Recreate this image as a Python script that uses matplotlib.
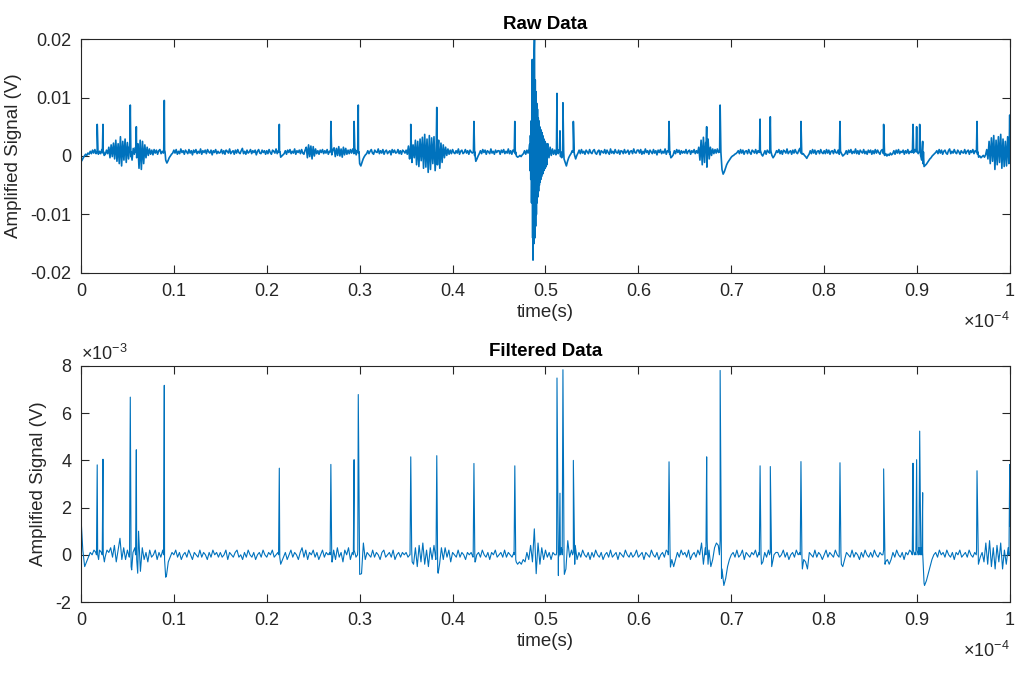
import numpy as np
import matplotlib
matplotlib.use('Agg')
from matplotlib import pyplot as plt
from matplotlib.ticker import FuncFormatter

plt.rcParams['font.family'] = ['Liberation Sans', 'DejaVu Sans']
plt.rcParams['mathtext.default'] = 'regular'

# spike times (us) and heights (mV)
spike_t = [1.75, 2.37, 5.31, 5.96, 8.97, 21.35, 26.9, 29.4, 29.85, 35.5, 38.3, 42.3, 46.7,
           51.24, 51.56, 51.88, 53.0, 63.3, 67.35, 68.8, 73.1, 74.2, 77.5, 81.7, 86.4,
           89.56, 89.95, 90.28, 90.6, 96.45, 99.97]
filt_peak = [3.81, 4.05, 6.68, 4.45, 7.18, 3.67, 3.83, 4.03, 6.79, 4.15, 4.20, 3.87, 3.77,
             7.49, 2.61, 7.84, 4.00, 3.94, 4.15, 7.81, 3.77, 3.74, 3.95, 3.90, 3.64,
             3.88, 4.03, 5.24, 2.63, 3.56, 3.83]
filt_dip = [-0.2, -0.3, -0.64, -0.78, -0.95, -0.4, -0.3, 0.0, -0.83, -0.3, -0.78, -0.3, -0.3,
            -0.88, 0.3, -0.83, -0.4, -0.52, -0.4, -1.0, -0.4, -0.5, -0.6, -0.4, -0.4,
            0.0, 0.0, 0.3, -1.2, -0.4, 1.24]
raw_peak = [5.4, 5.4, 8.7, 5.0, 9.5, 5.4, 5.9, 5.9, 8.7, 5.4, 8.3, 5.9, 5.9,
            10.7, 4.3, 9.1, 5.9, 5.9, 5.0, 8.7, 6.3, 6.7, 5.9, 5.9, 5.4,
            5.4, 5.0, 5.4, 2.5, 5.9, 7.0]

# filtered baseline, 0.1 mV units, every 0.2 us (one row = 5 us)
filt_base = [
    16, 2, -5, -3, -1, 1, 0, 2, 1, 0, 2, 1, 0, -1, 2, 1, 3, -1, 4, -3, 2, 7, -2, 3, -2,
    2, -1, -5, 1, 3, -2, 10, -7, 3, -2, 1, -3, 2, -1, 0, 2, -2, 1, -1, 2, -2, -9, -3, -1, 1,
    0, 2, -1, 1, -2, 0, 1, -1, 2, 0, -2, 1, 0, -1, 2, -1, 1, 0, -2, 1, -1, 2, 0, 1, -1,
    1, -1, 0, 2, -2, 1, 0, -1, 1, 2, -1, 0, -2, 1, -1, 2, 0, -1, 1, -2, 0, 1, -1, 2, 0,
    -1, 1, 0, 2, -1, 0, 1, -1, -3, -1, 1, -2, 0, 2, -1, 1, 0, -2, 1, 3, -1, 2, -2, 1, 0,
    2, -1, 1, -2, 0, 2, -1, 1, 0, 1, -3, 2, -2, 3, -1, 1, -3, 2, 0, 3, -2, 1, 2, -1, 2,
    -6, -8, 5, -2, 1, 0, -1, 2, -1, 1, 0, -2, 1, 2, -1, 0, 1, -1, 2, -2, 0, 1, -1, 1, 0,
    1, -1, 0, 2, -4, 3, -5, 4, -3, 5, -4, 2, -5, 3, -2, 4, -2, -7, -4, 3, -2, 3, -1, 2, -3,
    1, 0, -1, 2, -1, 1, 0, -2, 1, 0, 1, -1, -3, 0, 1, -1, 2, 0, -1, 1, -2, 1, 0, 2, -1,
    0, 1, -1, 2, -1, 1, 0, -1, 1, -2, -4, -3, -4, -2, -3, 1, -2, 4, -3, 11, -8, 5, -4, 3, -2,
    2, -1, 1, -2, 1, 0, 1, -1, 0, 1, -2, -6, 6, -1, 2, 1, 4, -2, 1, -1, 2, 0, -1, 1, -2,
    1, -1, 2, 0, -1, 1, -2, 0, 1, -1, 2, -1, 0, 1, -2, 1, 0, -1, 2, 0, -1, 1, -1, 0, 2,
    -1, 0, 1, -2, 1, 0, -1, 2, 0, -1, 1, -2, 0, 1, -1, 2, 1, 3, -2, -5, -2, 1, -1, 2, 0,
    1, -1, 2, -2, 0, 1, -1, 2, 0, 5, -4, 3, 6, 2, -5, -2, 3, 5, 4, 6, -6, -13, -10, -5, -2,
    0, 1, -1, 2, -1, 0, 2, -2, 1, 0, -1, 1, 0, 2, -1, 1, 0, -3, 1, -1, 2, 1, -4, 0, 1,
    1, -1, 0, 2, -1, 1, -2, 0, 1, -1, 2, 0, 1, 0, -2, -3, -6, 1, 0, -1, 2, -1, 1, 0, -2,
    0, 2, -1, 1, 0, -1, 2, 0, -1, 1, -5, -2, 1, 0, -1, 2, -1, 1, 0, -2, 1, -1, 2, 0, -1,
    1, -1, 2, 0, -1, 1, 0, 2, -3, -2, -4, -2, 1, -1, 2, 0, -1, 1, -2, 1, 0, 2, 1, 2, 1,
    2, 3, 0, 1, -13, -11, -8, -5, -2, 0, 1, -1, 2, 0, 1, -1, 2, 0, -1, 1, -2, 1, 0, 2, -1,
    0, 1, -1, 2, 0, -1, 1, 2, -4, -1, 1, -3, 5, -4, 6, -5, 3, -6, 4, -3, 5, -6, 2, -4, 3,
    12]

# raw noise around the 0.7 mV offset, 0.1 mV units, every 0.125 us (one row = 5 us)
raw_offset = 0.7
raw_noise = [
    -17, -14, -10, -7, -4, -6, -2, -4, 1, -3, 3, -2, 4, -3, 2, -4, 1, -3, 4, -2,
    -6, -4, 3, -3, 8, -10, 12, -8, 15, -12, 20, -16, 14, -20, 26, -24, 18, -14, 22, -18,
    16, -12, 10, -8, -14, 6, -4, 8, -10, 14, -28, 20, -30, 18, -20, 12, -10, 8, -6, 5,
    -4, 3, -5, 4, -2, 3, -4, 2, 4, -3, 1, -2, 3, -14, -19, -15, -10, -7, -4, -2,
    3, -2, 4, -4, 1, -3, 5, -1, 2, -4, 3, 0, -3, 4, -2, 2, -5, 3, -1, 4,
    -3, 1, -2, 5, -4, 2, -1, 3, -3, 4, 0, -2, 3, -5, 2, -1, 4, -3, 1, -2,
    -1, 4, -3, 2, -4, 3, 1, -2, 5, -3, 0, 2, -4, 3, -2, 4, -1, -3, 2, 6,
    -3, 1, -4, 3, -2, 0, 4, -3, 2, -1, 3, -5, 1, 4, -2, -3, 3, -1, 2, -4,
    2, -3, 4, -1, -4, 3, 1, -2, 5, -3, 2, 0, -9, -7, -5, -3, 2, -4, 3, -1,
    4, -3, 1, -2, 5, -4, 2, -1, 3, -3, 4, -2, -4, 3, 8, -10, 12, -8, 10, -12,
    9, -7, 5, -3, 2, -4, 3, -1, 4, -3, 2, -2, 4, -4, 1, 3, -5, 4, 7, -8,
    6, -6, 9, -7, 5, -9, 8, -5, 6, -4, 3, -3, 4, -2, 5, -3, 4, -5, 3, -2,
    -20, -24, -18, -12, -8, -5, -3, 2, -3, 1, 4, -2, -4, 3, 0, -1, 5, -3, 2, -2,
    4, -4, 1, 3, -3, 0, 2, -5, 4, -1, 3, -2, -1, 4, -3, 2, -4, 3, 1, -2,
    3, -4, 10, -12, 15, -18, 12, -10, 20, -22, 18, -25, 22, -15, 25, -28, 30, -26, 22, -35,
    28, -30, 24, -20, 26, -32, 18, -22, 20, -28, 15, -18, 12, -10, 8, -6, 5, -4, 3, -3,
    4, -1, -3, 2, -2, 5, -4, 1, 3, -3, -1, 4, -2, 2, -4, 3, 0, -2, 4, -6,
    -16, -12, -7, -3, 2, -3, 4, -1, 3, -4, 2, 0, -3, 5, -2, 1, -4, 3, -1, 2,
    2, -4, 3, -1, 4, -3, 1, -2, 5, -3, 2, -4, 3, 0, -3, -7, -9, -8, -6, -8,
    -5, -3, 2, -4, 3, -2, 5, -8, 10, -12, 14, -16, 12, -14, 10, -12, 9, -10, 8, -9,
    12, -15, 14, -10, 8, -6, 5, -4, 3, -5, 2, -3, 4, -8, -10, -6, -12, -18, -24, -16,
    -10, -6, -3, 2, 3, -5, -12, -6, -2, 3, -3, 4, -2, 1, -4, 3, 0, -3, 4, -1,
    -3, 2, 4, -2, -4, 1, 3, -5, 2, 0, -2, 4, -3, 3, -1, -4, 5, -2, 1, -3,
    4, -1, -2, 3, -4, 2, 1, -3, 4, -2, 0, 3, -4, 1, 2, -3, 5, -1, -2, 3,
    3, -2, 4, -4, 1, -3, 5, -1, 2, -4, 3, 0, -3, 4, -2, 2, -5, 3, -1, 4,
    -3, 1, -2, 5, -4, 2, 0, -4, -10, -8, -5, 2, -3, 4, -1, 3, -4, 2, -2, 1,
    -2, 4, -3, 1, 3, -4, 2, -1, 4, -3, 2, -2, 8, -14, 20, -22, 25, -18, 16, -26,
    22, -12, 8, -6, 5, -3, 4, -2, 5, -1, 6, 2, -30, -38, -34, -28, -22, -18, -15, -12,
    -9, -7, -6, -4, -3, -1, 2, -3, 4, -2, 3, -4, 1, 2, -3, 4, -1, -4, 3, 1,
    -2, 4, -3, 2, -1, 3, -4, -7, -3, 2, -4, 3, 0, -2, 4, -6, -10, -7, -3, 2,
    -1, 4, -3, 2, -4, 3, 1, -2, 5, -3, 0, 2, -4, 3, -2, 4, -1, -3, 2, 6,
    -2, -4, -3, -6, -8, -11, -7, -4, 2, -3, 4, -2, 3, -4, 1, 2, -3, 4, -1, -3,
    2, -3, 4, -2, 3, -4, 1, 2, -3, 4, -1, -2, 3, -4, 2, -3, -7, -5, -3, 2,
    -4, 3, -1, 4, -3, 1, -2, 5, -3, 2, -4, 3, 0, -2, 4, -3, 1, -4, 3, -1,
    3, -4, 2, -3, 4, -2, 3, -1, -4, 2, 4, -3, -6, -3, -7, -4, -6, -2, -5, -3,
    2, -4, 3, -2, 4, -3, 1, -1, 3, -4, 2, -2, 4, -3, 1, -1, 3, -2, 4, 3,
    2, -3, 4, -6, -14, -20, -25, -23, -21, -18, -15, -12, -10, -7, -5, -3, -1, 2, -3, 4,
    -2, 3, -4, 1, 3, -2, -4, 2, 5, -3, 1, -2, 4, -1, -3, 3, 0, -4, 2, -1,
    -2, 4, -3, 1, 3, -4, 2, -1, 4, -3, 2, 0, -4, -9, -7, -10, -8, -6, -9, -5,
    4, -12, 18, -20, 24, -16, 28, -30, 20, -22, 26, -18, 30, -28, 22, -25, 18, -24, 26, -20,
    10]

# big event in raw data around 48.3-50.2 us (mV), every 0.04 us
burst_v = [2.0, -2.5, 3.5, -4.0, 6.0, -8.0, 12.0, 16.5, -14.0, -17.8, 14.0, -15.0,
           18.0, 21.0, -14.0, 13.0, -12.0, 11.0, -10.0, 9.0, -8.0, 8.0, -7.0, 6.5,
           -6.0, 6.0, -5.0, 5.0, -4.5, 4.5, -4.0, 4.4, -3.5, 4.0, -3.0, 3.5,
           -3.0, 3.0, -2.5, 2.8, -2.2, 2.5, -2.0, 2.2, -1.8, 1.8, -1.5, 1.5]
burst_start = 48.3

st = np.array(spike_t)

# filtered trace
ft = np.concatenate([np.linspace(0, 100, len(filt_base)), st - 0.08, st, st + 0.15])
fv = np.concatenate([np.array(filt_base) / 10, np.zeros(len(st)), filt_peak, filt_dip])
o = np.argsort(ft, kind='stable')
ft, fv = ft[o], fv[o]

# raw trace
bt = burst_start + 0.04 * np.arange(len(burst_v))
rt = np.concatenate([np.linspace(0, 100, len(raw_noise)), st - 0.06, st, st + 0.08, bt])
rv = np.concatenate([raw_offset + np.array(raw_noise) / 10,
                     np.full(len(st), raw_offset), raw_peak,
                     np.full(len(st), raw_offset), burst_v])
o = np.argsort(rt, kind='stable')
rt, rv = rt[o], rv[o]

col = '#0072BD'
axc = '#262626'
fs = 13

fig = plt.figure(figsize=(10.26, 6.74), dpi=100)
ax1 = fig.add_axes([0.0789, 0.595, 0.9055, 0.3471])
ax2 = fig.add_axes([0.0789, 0.1068, 0.9055, 0.3502])

ax1.plot(rt * 1e-6, rv * 1e-3, color=col, lw=1.2)
ax2.plot(ft * 1e-6, fv * 1e-3, color=col, lw=0.8)

ax1.set_ylim(-0.02, 0.02)
ax1.set_yticks([-0.02, -0.01, 0, 0.01, 0.02])
ax1.yaxis.set_major_formatter(FuncFormatter(lambda v, p: f"{round(v, 4):g}"))
ax2.set_ylim(-2e-3, 8e-3)
ax2.set_yticks(np.arange(-2, 9, 2) * 1e-3)
ax2.yaxis.set_major_formatter(FuncFormatter(lambda v, p: f"{round(v * 1e3, 3):g}"))

for ax, title in [(ax1, 'Raw Data'), (ax2, 'Filtered Data')]:
    ax.set_xlim(0, 1e-4)
    ax.set_xticks(np.arange(0, 11) * 1e-5)
    ax.xaxis.set_major_formatter(FuncFormatter(lambda v, p: f"{round(v * 1e4, 3):g}"))
    ax.tick_params(direction='in', length=6, width=0.8, colors=axc, labelsize=fs,
                   top=True, right=True, pad=7)
    for s in ax.spines.values():
        s.set_color(axc)
        s.set_linewidth(0.8)
    ax.set_xlabel('time(s)', fontsize=fs + 0.5, color=axc, labelpad=3)
    ax.set_ylabel('Amplified Signal (V)', fontsize=fs + 0.5, color=axc, labelpad=6)
    ax.set_title(title, fontsize=fs + 0.5, fontweight='bold', color='black', pad=7)
    ax.text(1.0, -0.165, r'$\times$10$^{-4}$', transform=ax.transAxes, ha='right',
            va='top', fontsize=fs, color=axc)

ax2.text(0.0, 1.01, r'$\times$10$^{-3}$', transform=ax2.transAxes, ha='left',
         va='bottom', fontsize=fs, color=axc)

fig.savefig('out.png', dpi=100)
